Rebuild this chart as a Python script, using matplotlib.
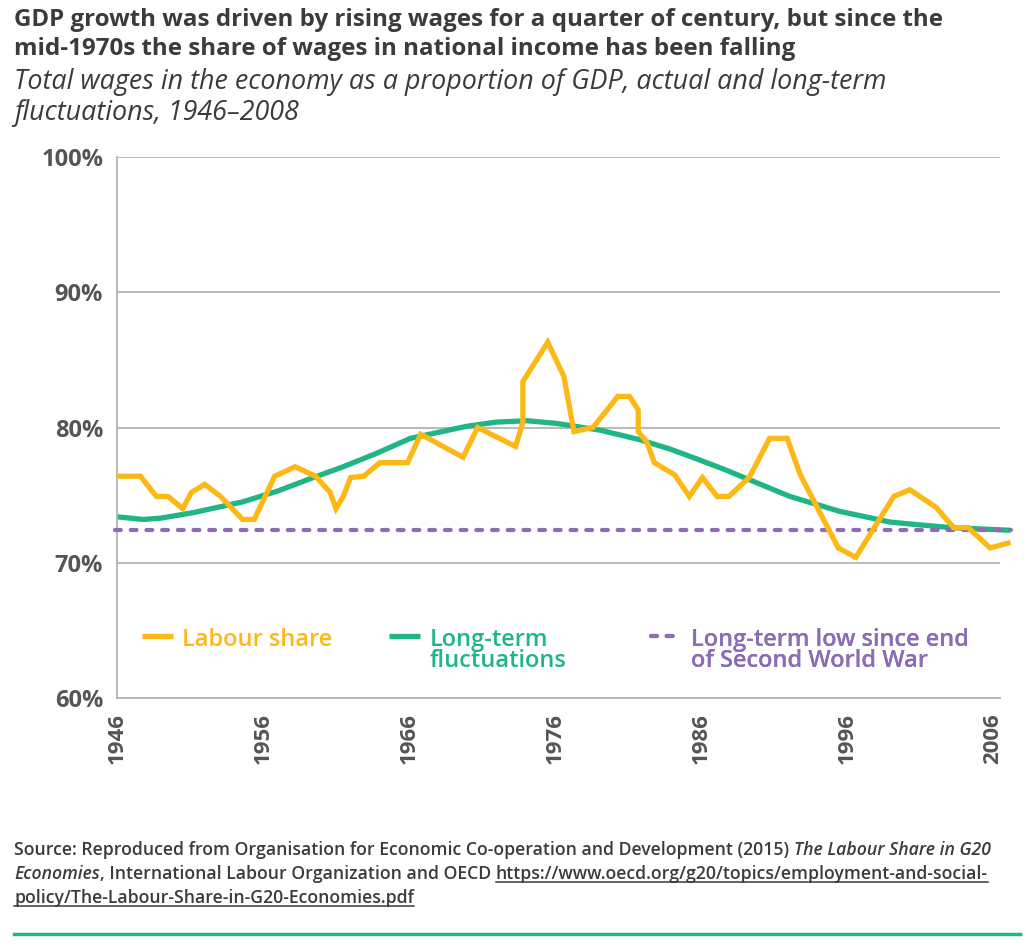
import matplotlib
matplotlib.use("Agg")
import matplotlib.pyplot as plt
from matplotlib.lines import Line2D

# Labour share (% of GDP): x in years, y in %
labour_years = [1946.0, 1947.6, 1948.7, 1949.5, 1950.5, 1951.1, 1952.0, 1953.1,
                1954.6, 1955.4, 1956.8, 1958.2, 1959.6, 1960.6, 1961.0, 1961.5,
                1962.0, 1962.9, 1964.0, 1965.9, 1966.8, 1969.7, 1970.7, 1973.3,
                1973.8, 1973.8, 1975.5, 1976.6, 1977.3, 1978.6, 1980.3, 1981.1,
                1981.7, 1981.7, 1982.3, 1982.8, 1984.2, 1985.2, 1986.1, 1987.1,
                1987.9, 1989.3, 1990.7, 1991.9, 1992.8, 1995.4, 1996.6, 1999.2,
                2000.3, 2002.1, 2003.3, 2004.3, 2005.8, 2007.2]
labour_share = [76.4, 76.4, 74.9, 74.9, 74.0, 75.2, 75.8, 74.9,
                73.2, 73.2, 76.4, 77.1, 76.4, 75.2, 74.0, 74.9,
                76.3, 76.4, 77.4, 77.4, 79.5, 77.8, 80.0, 78.6,
                80.4, 83.4, 86.3, 83.8, 79.7, 80.0, 82.3, 82.3,
                81.3, 79.7, 78.9, 77.4, 76.5, 74.9, 76.3, 74.9,
                74.9, 76.3, 79.2, 79.2, 76.5, 71.1, 70.4, 74.9,
                75.4, 74.1, 72.6, 72.6, 71.1, 71.5]

# Long-term fluctuations (smoothed trend)
trend_years = [1946.0, 1947.8, 1949.0, 1951.2, 1954.6, 1957.0, 1959.2, 1961.5,
               1963.8, 1966.1, 1970.0, 1972.0, 1974.1, 1976.1, 1979.1, 1981.8,
               1983.9, 1985.9, 1987.6, 1989.4, 1992.1, 1995.5, 1999.0, 2001.0,
               2003.1, 2007.2]
trend_share = [73.4, 73.2, 73.3, 73.7, 74.5, 75.3, 76.2, 77.1,
               78.1, 79.2, 80.1, 80.4, 80.5, 80.3, 79.8, 79.1,
               78.4, 77.6, 76.9, 76.1, 74.9, 73.8, 73.0, 72.8,
               72.6, 72.4]

# Long-term low since end of Second World War
low_years = [1945.85, 2007.2]
low_share = [72.4, 72.4]

year_ticks = [1946, 1956, 1966, 1976, 1986, 1996, 2006]
pct_ticks = [60, 70, 80, 90, 100]
pct_labels = ["60%", "70%", "80%", "90%", "100%"]

ORANGE = "#fdb816"
GREEN = "#1fb585"
PURPLE = "#8c6cb5"
GRID = "#b4b4b4"
TICK_GREY = "#555555"
DARK = "#3b3b3b"
FONT = "Open Sans"

W, H = 1026, 946
fig = plt.figure(figsize=(W / 100, H / 100), dpi=100)
ax = fig.add_axes([117 / W, 1 - 698 / H, 883 / W, 541 / H])

ax.plot(trend_years, trend_share, color=GREEN, lw=3.8, clip_on=False, zorder=2,
        solid_capstyle="butt", label="Long-term\nfluctuations")
ax.plot(low_years, low_share, color=PURPLE, lw=3.0, clip_on=False, zorder=3,
        linestyle=(0, (1.4, 2.37)), dash_capstyle="round",
        label="Long-term low since end\nof Second World War")
ax.plot(labour_years, labour_share, color=ORANGE, lw=3.8, clip_on=False, zorder=4,
        solid_joinstyle="miter", solid_capstyle="butt", label="Labour share")

ax.set_xlim(1946, 1946 + 883 / 14.6)
ax.set_ylim(60, 100)
ax.set_xticks(year_ticks)
ax.set_xticklabels([str(y) for y in year_ticks], rotation=90, fontsize=16,
                   fontweight="bold", color=TICK_GREY, family=FONT)
ax.set_yticks(pct_ticks)
ax.set_yticklabels(pct_labels, fontsize=17, fontweight="bold", color=TICK_GREY,
                   family=FONT)
ax.tick_params(axis="x", length=0, pad=11)
ax.tick_params(axis="y", length=0, pad=10)
ax.yaxis.grid(True, color=GRID, lw=1.3)
ax.set_axisbelow(True)
for side in ["top", "right"]:
    ax.spines[side].set_visible(False)
for side in ["left", "bottom"]:
    ax.spines[side].set_color(GRID)
    ax.spines[side].set_linewidth(1.3)

# legend: three separate boxes so each sits where it does in the original
handles = {h.get_label(): h for h in ax.get_lines()}
leg_spots = [("Labour share", ORANGE, 0.015),
             ("Long-term\nfluctuations", GREEN, 0.295),
             ("Long-term low since end\nof Second World War", PURPLE, 0.591)]
for lab, col, xa in leg_spots:
    lg = ax.legend([handles[lab]], [lab], loc="upper left",
                   bbox_to_anchor=(xa, 0.152), frameon=False, borderpad=0,
                   handlelength=1.3, handletextpad=0.4,
                   prop={"family": FONT, "weight": "semibold", "size": 17})
    for t in lg.get_texts():
        t.set_color(col)
        t.set_linespacing(0.85)
    # keep the key level with the first line of a two-line label
    for column in lg._legend_handle_box.get_children():
        for row in column.get_children():
            row.align = "top"
    ax.add_artist(lg)

# title and subtitle
fig.text(14 / W, 1 - 26 / H, "GDP growth was driven by rising wages for a quarter of century, but since the",
         fontsize=17.4, fontweight="bold", color=DARK, family=FONT, va="baseline")
fig.text(14 / W, 1 - 55 / H, "mid-1970s the share of wages in national income has been falling",
         fontsize=17.4, fontweight="bold", color=DARK, family=FONT, va="baseline")
fig.text(14 / W, 1 - 89 / H, "Total wages in the economy as a proportion of GDP, actual and long-term",
         fontsize=19.4, fontstyle="italic", color=DARK, family=FONT, va="baseline")
fig.text(14 / W, 1 - 120 / H, "fluctuations, 1946\u20132008",
         fontsize=19.4, fontstyle="italic", color=DARK, family=FONT, va="baseline")

# source note, built run by run (italic titles, underlined link)
renderer = fig.canvas.get_renderer()
src_size = 12.7


def text_width(s, style):
    t = fig.text(0, 0, s, fontsize=src_size, family=FONT, fontweight="semibold",
                 fontstyle=style)
    w = t.get_window_extent(renderer).width
    t.remove()
    return w


space = text_width("a a", "normal") - text_width("aa", "normal")

source_lines = [
    (855, [("Source: Reproduced from Organisation for Economic Co-operation and Development (2015)", "normal", False),
           ("The Labour Share in G20", "italic", False)]),
    (879, [("Economies", "italic", False),
           (", International Labour Organization and OECD", "normal", False),
           ("https://www.oecd.org/g20/topics/employment-and-social-", "normal", True)]),
    (903, [("policy/The-Labour-Share-in-G20-Economies.pdf", "normal", True)]),
]
for base_px, runs in source_lines:
    x_px = 14
    for i, (s, style, under) in enumerate(runs):
        if i > 0 and not s.startswith(","):
            x_px += space
        t = fig.text(x_px / W, 1 - base_px / H, s, fontsize=src_size, family=FONT,
                     fontweight="semibold", fontstyle=style, color=DARK, va="baseline")
        bb = t.get_window_extent(renderer)
        if under:
            fig.add_artist(Line2D([bb.x0 / W, bb.x1 / W], [1 - (base_px + 3) / H] * 2,
                                  transform=fig.transFigure, color=DARK, lw=1.1))
        x_px = bb.x1

# green rule at the bottom
fig.add_artist(Line2D([14 / W, 1020 / W], [1 - 934 / H] * 2, transform=fig.transFigure,
                      color=GREEN, lw=2.5))

fig.savefig("out.png", dpi=100)
